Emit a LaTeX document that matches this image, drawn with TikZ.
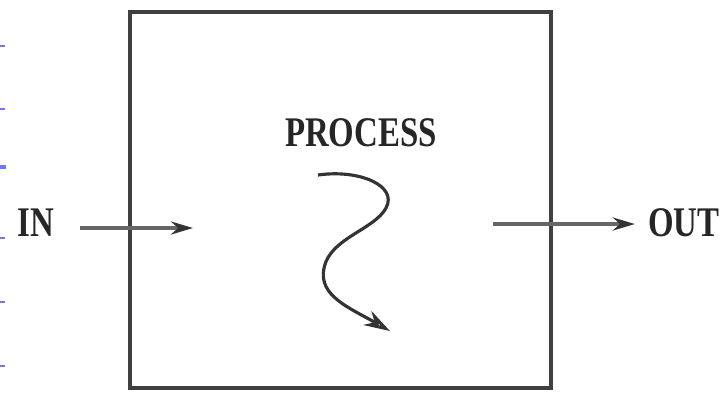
\documentclass[tikz,border=0pt]{standalone}
\usepackage{fontspec}
\setmainfont{Liberation Serif}[FakeStretch=0.78]
\usetikzlibrary{arrows.meta}
\begin{document}
\begin{tikzpicture}[
	every path/.style={line width=1pt},
	frame/.style={draw=black!75, line width=1.1pt, minimum width=4.21cm,
				minimum height=3.76cm},
	word/.style={font=\fontsize{12}{14}\selectfont\bfseries, text=black!85},
	flow/.style={draw=black!60, line width=1.2pt,
				-{Stealth[length=0.22cm, width=0.13cm, black!80]}},
	tick/.style={draw=blue!55, line width=0.5pt}]
	\useasboundingbox (0,0) rectangle (7.22,3.94);
	\node[frame] (box) at (3.405,1.94) {};
	\node[word] (proc) at (3.61,2.61) {PROCESS};
	\node[word] (in) at (0.36,1.71) {IN};
	\node[word] (out) at (6.84,1.71) {OUT};
	\coordinate (inend) at (1.93,1.66);
	\coordinate (outstart) at (4.93,1.70);
	\draw[flow, shorten <=0.12cm] (in.east |- inend) -- (inend);
	\draw[flow] (outstart) -- (out.west |- outstart);
	\draw[line width=0.9pt, black!80,
		-{Stealth[length=0.26cm, width=0.16cm, open]}]
		(3.18,2.19) .. controls (3.60,2.25) and (3.98,2.08) .. (3.86,1.86)
		.. controls (3.74,1.64) and (3.30,1.56) .. (3.24,1.26)
		.. controls (3.18,0.98) and (3.50,0.86) .. (3.90,0.63);
	\foreach \y in {3.48,2.85,1.56,0.92,0.28}
		\draw[tick] (0,\y) -- (0.05,\y);
	\draw[tick, line width=1pt] (0,2.27) -- (0.06,2.27);
\end{tikzpicture}
\end{document}
